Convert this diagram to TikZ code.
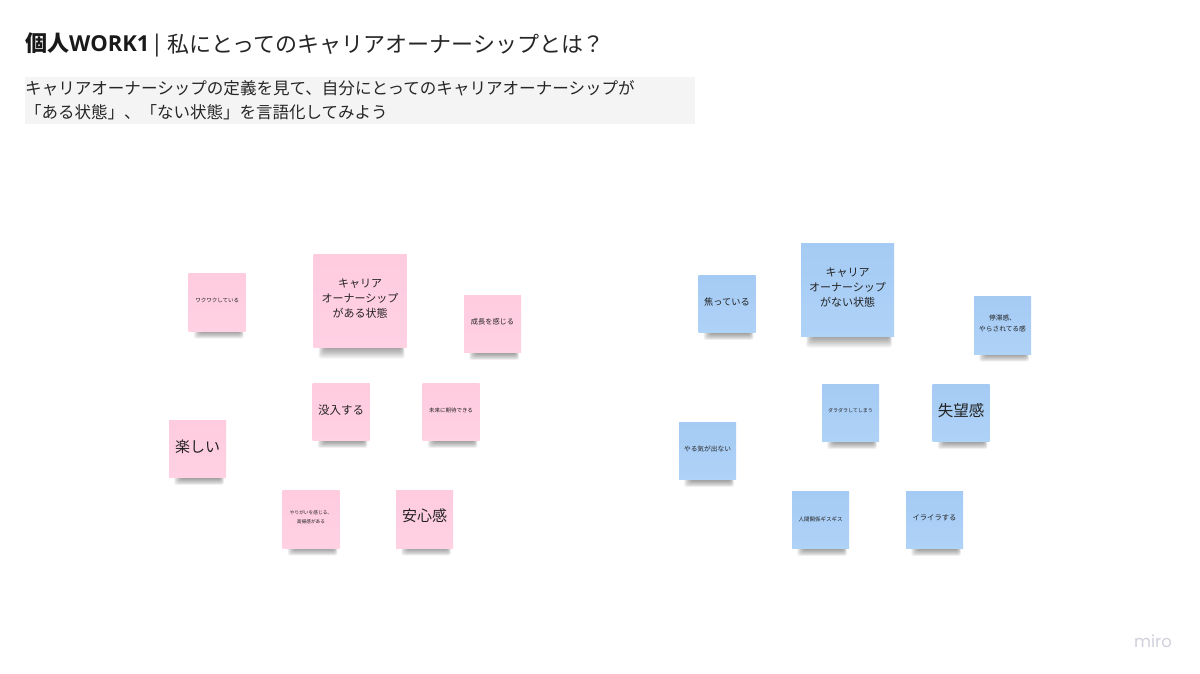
\documentclass[tikz,border=0pt]{standalone}
\usepackage{fontspec}
\setmainfont{Noto Sans CJK JP}
\newfontfamily\logofont{Poppins}
\newfontfamily\latinfont{Open Sans}
\definecolor{inkc}{HTML}{222222}
\definecolor{pinktop}{HTML}{FFCBDF}
\definecolor{pinkbot}{HTML}{FFD1E3}
\definecolor{bluetop}{HTML}{A5CBF4}
\definecolor{bluebot}{HTML}{AFD2F7}
\definecolor{panelc}{HTML}{F4F4F4}
\definecolor{logoc}{HTML}{D0D0DC}
\newcommand{\fs}[1]{\fontsize{#1}{#1}\selectfont}
\newcommand{\labelrise}{2}
\tikzset{
  note/.style={inner sep=0pt,outer sep=0pt,anchor=center},
  notelabel/.style={inner sep=0pt,outer sep=0pt,text=inkc,align=center,anchor=center},
  pinknote/.style={note,top color=pinktop,bottom color=pinkbot},
  bluenote/.style={note,top color=bluetop,bottom color=bluebot},
  smallnote/.style={minimum width=57pt,minimum height=57.5pt},
  bignote/.style={minimum width=93pt,minimum height=93pt},
  shadowlayer/.style={fill=black,opacity=0.045,rounded corners=2.5pt,draw=none},
}
% #1 name, #2 centre x, #3 centre y, #4 half width, #5 half height, #6 styles, #7 font size, #8 line skip, #9 text
\newcommand{\sticky}[9]{%
  \pgfmathsetmacro{\fac}{#5>40?1.3:0.8}%
  \foreach \k in {0,...,9}{%
    \fill[shadowlayer] (#2-#4+5+\k*0.8,#3+#5-3) rectangle (#2+#4-2-\k*0.4,#3+#5+\fac*9-\fac*\k*0.9);
  }
  \node[#6] (#1) at (#2,#3) {};
  \node[notelabel,font={\fontsize{#7}{#8}\selectfont}] (#1t) at (#2,#3-\labelrise) {#9};
}
\begin{document}
\begin{tikzpicture}[x=1pt,y=-1pt]
\fill[white,use as bounding box] (0,0) rectangle (1200,674);
% header
\node[anchor=base west,inner sep=0pt,text=black!90,font={\fs{22}\bfseries}] (titleb) at (25,52) {個人\latinfont WORK1};
\node[anchor=base west,inner sep=0pt,text=black!85,font={\latinfont\fs{23}}] (titlebar) at (150.5,52) {|};
\node[anchor=west,inner sep=0pt,text=black!85,font=\fs{22}] (titlet) at (167,44) {私にとってのキャリアオーナーシップとは？};
\fill[panelc] (25,77) rectangle (695,124);
\node[anchor=west,inner sep=0pt,text=black!85,font=\fs{16.55}] (subone) at (25,88) {キャリアオーナーシップの定義を見て、自分にとってのキャリアオーナーシップが};
\node[anchor=west,inner sep=0pt,text=black!85,font=\fs{16.5}] (subtwo) at (25,112) {「ある状態」、「ない状態」を言語化してみよう};
% pink notes
\sticky{pa}{217.2}{302.5}{28.5}{29}{pinknote,smallnote}{5.5}{8}{ワクワクしている}
\sticky{pb}{360}{300.5}{46.5}{46.5}{pinknote,bignote}{11}{15}{キャリア\\オーナーシップ\\がある状態}
\sticky{pc}{492.5}{324}{28.5}{29}{pinknote,smallnote}{7.2}{10}{成長を感じる}
\sticky{pd}{341}{412}{28.5}{29}{pinknote,smallnote}{11.5}{14}{没入する}
\sticky{pe}{451}{412}{28.5}{29}{pinknote,smallnote}{5.5}{8}{未来に期待できる}
\sticky{pf}{197.5}{449}{28.5}{29}{pinknote,smallnote}{15}{18}{楽しい}
\sticky{pg}{311}{519.5}{28.5}{29}{pinknote,smallnote}{4.7}{9}{やりがいを感じる、\\高揚感がある}
\renewcommand{\labelrise}{3.5}
\sticky{ph}{424.5}{519.5}{28.5}{29}{pinknote,smallnote}{15}{18}{安心感}
\renewcommand{\labelrise}{2}
% blue notes
\sticky{ba}{727}{304}{28.5}{29}{bluenote,smallnote}{9.2}{12}{焦っている}
\sticky{bb}{847.5}{289.5}{46.5}{46.5}{bluenote,bignote}{11}{15}{キャリア\\オーナーシップ\\がない状態}
\sticky{bc}{1002.5}{325.5}{28.5}{29}{bluenote,smallnote}{6.7}{10.5}{停滞感、\\やらされてる感}
\sticky{bd}{850.5}{413}{28.5}{29}{bluenote,smallnote}{5}{8}{ダラダラしてしまう}
\sticky{be}{961}{413}{28.5}{29}{bluenote,smallnote}{15.5}{18}{失望感}
\sticky{bf}{707.5}{451}{28.5}{29}{bluenote,smallnote}{6.7}{10}{やる気が出ない}
\renewcommand{\labelrise}{1}
\sticky{bg}{820.5}{520}{28.5}{29}{bluenote,smallnote}{5.5}{8}{人間関係ギスギス}
\renewcommand{\labelrise}{2}
\sticky{bh}{934.5}{520}{28.5}{29}{bluenote,smallnote}{7.3}{10}{イライラする}
% logo
\node[anchor=center,inner sep=0pt,text=logoc,font={\logofont\fs{16.5}}] (logo) at (1153,641) {miro};
\end{tikzpicture}
\end{document}
